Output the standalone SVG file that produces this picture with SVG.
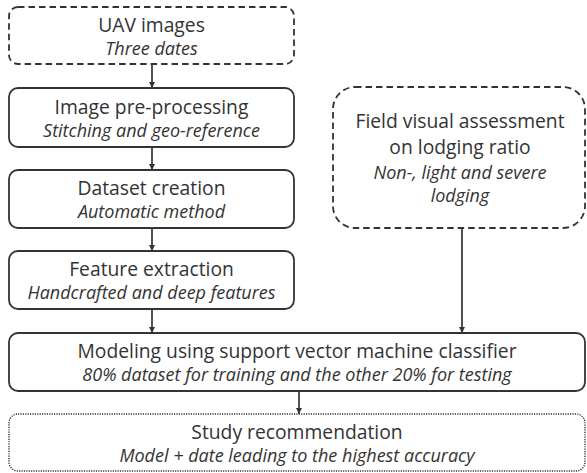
<svg xmlns="http://www.w3.org/2000/svg" width="587" height="473" viewBox="0 0 587 473">
<defs>
<marker id="ah" viewBox="0 0 8 8" refX="8" refY="4" markerWidth="7" markerHeight="6" markerUnits="userSpaceOnUse" orient="auto">
<path d="M0,0 L8,4 L0,8 Z" fill="#333"/>
</marker>
<style>
.box{fill:#fff;stroke:#333;stroke-width:1.8}
.dash{stroke-dasharray:6.5 4}
.dot{stroke-dasharray:1.2 1.2;stroke-width:1.4}
.t{font-family:"Open Sans","Liberation Sans",sans-serif;font-size:19.3px;fill:#333;text-anchor:middle}
.s{font-family:"Open Sans","Liberation Sans",sans-serif;font-size:18px;font-style:italic;fill:#333;text-anchor:middle}
.c{stroke:#333;stroke-width:1.7;fill:none}
</style>
</defs>
<rect width="587" height="473" fill="#fff"/>
<g id="connectors">
<line class="c" x1="152" y1="64" x2="152" y2="88" marker-end="url(#ah)"/>
<line class="c" x1="152" y1="147" x2="152" y2="170" marker-end="url(#ah)"/>
<line class="c" x1="152" y1="228" x2="152" y2="251" marker-end="url(#ah)"/>
<line class="c" x1="152" y1="309" x2="152" y2="333" marker-end="url(#ah)"/>
<line class="c" x1="462" y1="228" x2="462" y2="333" marker-end="url(#ah)"/>
<line class="c" x1="299" y1="391" x2="299" y2="414" marker-end="url(#ah)"/>
</g>
<g id="uav">
<rect class="box dash" x="9" y="7" width="285" height="57" rx="9"/>
<text class="t" x="151.5" y="32">UAV images</text>
<text class="s" x="151.5" y="55">Three dates</text>
</g>
<g id="preprocessing">
<rect class="box" x="9" y="88" width="285" height="59" rx="9"/>
<text class="t" x="151.5" y="114">Image pre-processing</text>
<text class="s" x="151.5" y="137">Stitching and geo-reference</text>
</g>
<g id="dataset">
<rect class="box" x="9" y="170" width="285" height="58" rx="9"/>
<text class="t" x="151.5" y="195">Dataset creation</text>
<text class="s" x="151.5" y="218">Automatic method</text>
</g>
<g id="feature">
<rect class="box" x="9" y="251" width="285" height="58" rx="9"/>
<text class="t" x="151.5" y="276">Feature extraction</text>
<text class="s" x="151.5" y="299">Handcrafted and deep features</text>
</g>
<g id="field">
<rect class="box dash" x="333" y="87" width="252" height="141" rx="22"/>
<text class="t" x="460" y="128">Field visual assessment</text>
<text class="t" x="460" y="154">on lodging ratio</text>
<text class="s" x="460" y="179">Non-, light and severe</text>
<text class="s" x="460" y="202">lodging</text>
</g>
<g id="modeling">
<rect class="box" x="9" y="333" width="576" height="58" rx="9"/>
<text class="t" x="297" y="358">Modeling using support vector machine classifier</text>
<text class="s" x="297" y="381">80% dataset for training and the other 20% for testing</text>
</g>
<g id="study">
<rect class="box dot" x="9" y="414" width="576" height="57" rx="9"/>
<text class="t" x="297" y="438.5">Study recommendation</text>
<text class="s" x="297" y="461.5">Model + date leading to the highest accuracy</text>
</g>
</svg>
